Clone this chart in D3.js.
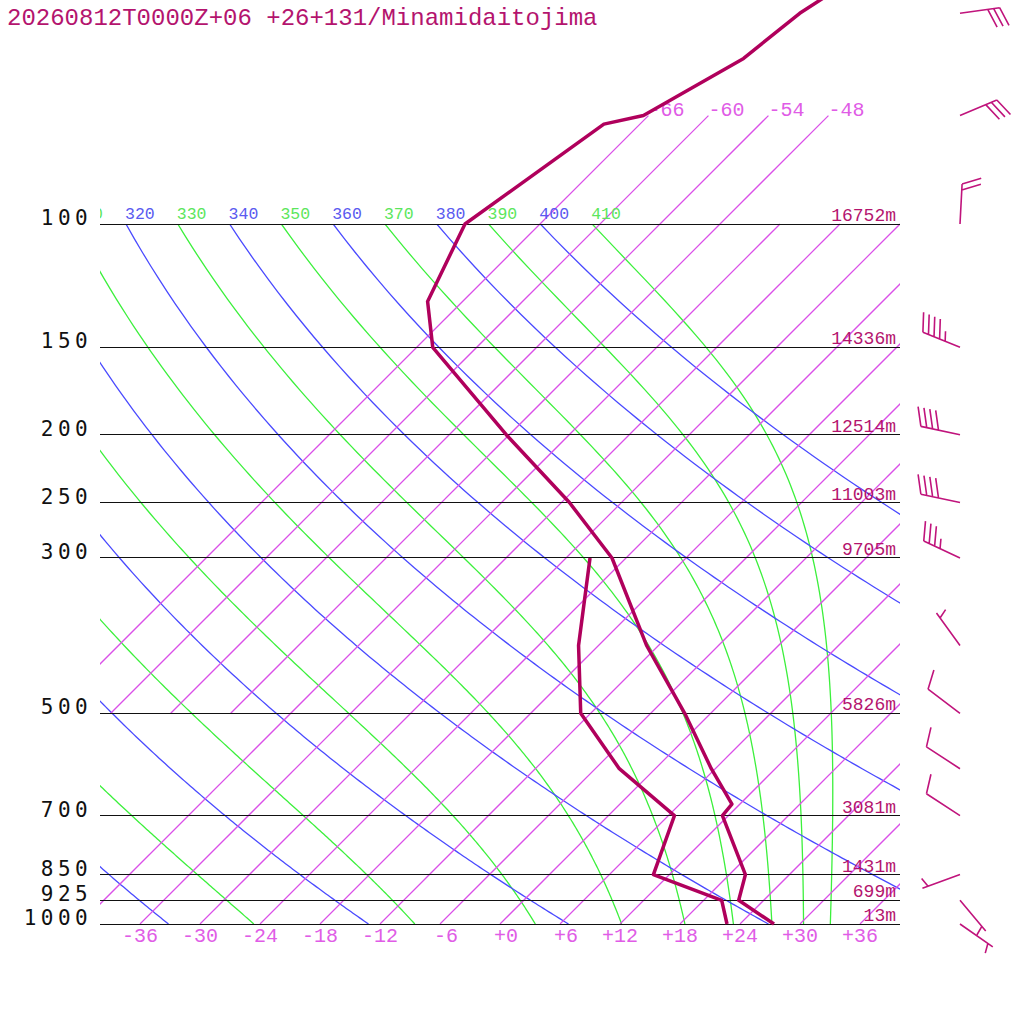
<!DOCTYPE html>
<html>
<head>
<meta charset="utf-8">
<script src="https://cdn.jsdelivr.net/npm/d3@7"></script>
<style>
  html, body { margin: 0; padding: 0; background: #fff; }
  svg { display: block; }
  text { font-family: "Liberation Mono", "DejaVu Sans Mono", monospace; }
  .crisp { shape-rendering: crispEdges; }
</style>
</head>
<body>
<svg id="chart" width="1024" height="1024"></svg>
<script>
// values
var title = "20260812T0000Z+06 +26+131/Minamidaitojima";

var levels  = [1000, 925, 850, 700, 500, 300, 250, 200, 150, 100];
var heights = [13, 699, 1431, 3081, 5826, 9705, 11003, 12514, 14336, 16752];

var tempTicks   = [-36, -30, -24, -18, -12, -6, 0, 6, 12, 18, 24, 30, 36];
var isoUpper    = [-66, -60, -54, -48];                 // 500 -> 70 hPa, labelled on top
var isoLower    = [-42, -36, -30, -24, -18, -12, -6, 0, 6, 12, 18, 24, 30, 36]; // 1000 -> 100 hPa
var dryThetas   = [240, 260, 280, 300, 320, 340, 360, 380, 400];
var moistThetas = [250, 270, 290, 310, 330, 350, 370, 390, 410];

// sounding
var tempP = [1000, 925, 850, 700, 674, 600, 500, 400, 300, 250, 200, 150, 129, 100, 72, 70, 58, 50, 40];
var tempT = [27.4, 21.5, 19.6, 11.4, 11.2, 5.6, -2.6, -13.2, -25.4, -35.2, -48.3, -64.4, -69.5, -73.5, -69.6, -66.5, -62.2, -61.1, -57.4];
var dewP  = [1000, 925, 850, 700, 600, 500, 400, 300];
var dewT  = [22.7, 19.8, 10.4, 6.6, -3.6, -13.0, -20.0, -27.6];

// winds (direction deg, speed kt)
var windP   = [1000, 925, 850, 700, 600, 500, 400, 300, 250, 200, 150, 100, 70, 50];
var windDir = [125, 140, 250, 303, 303, 307, 324, 295, 282, 282, 292, 3, 67, 82];
var windSpd = [5, 5, 5, 10, 10, 10, 5, 35, 40, 40, 45, 20, 30, 30];

var cIso = "#da50e8", cIsoTxt = "#e05ce6",
    cDry = "#4a4aff", cDryTxt = "#5a5af0",
    cWet = "#3cf03c", cWetTxt = "#5ce65c",
    cSnd = "#b0005c", cTxt = "#b4146e", cBarb = "#c0147c";

var svg = d3.select("#chart");
svg.append("rect").attr("width", 1024).attr("height", 1024).attr("fill", "#fff");

var y = d3.scaleLog().domain([1000, 100]).range([924, 224]);
var x = d3.scaleLinear().domain([-40, 40]).range([100, 900]);
function px(T, p) { return x(T) + (y(1000) - y(p)); }

var defs = svg.append("defs");
defs.append("clipPath").attr("id", "clipPlot").append("rect")
  .attr("x", 100).attr("y", 224).attr("width", 800).attr("height", 700);
defs.append("clipPath").attr("id", "clipIso").append("rect")
  .attr("x", 100).attr("y", 0).attr("width", 800).attr("height", 924);
defs.append("clipPath").attr("id", "clipLab").append("rect")
  .attr("x", 100).attr("y", 190).attr("width", 800).attr("height", 34);

var line = d3.line().x(function(d) { return px(d[0], d[1]); }).y(function(d) { return y(d[1]); });

// moist adiabats
function satMix(p, T) {
  var tc = T - 273.15;
  var es = 6.112 * Math.exp(17.67 * tc / (tc + 243.5));
  return 0.622 * es / (p - es);
}
function lapse(p, T) {
  var rs = satMix(p, T);
  return (287.04 * T + 2.501e6 * rs) / (1005.7 + 2.501e6 * 2.501e6 * rs * 0.622 / (287.04 * T * T)) / p;
}
function moistCurve(theta) {
  var p = 100, T = theta * Math.pow(p / 1000, 0.2857), pts = [[T - 273.15, p]];
  while (p < 1000) {
    var h = Math.min(4, 1000 - p);
    var k1 = lapse(p, T), k2 = lapse(p + h / 2, T + h / 2 * k1),
        k3 = lapse(p + h / 2, T + h / 2 * k2), k4 = lapse(p + h, T + h * k3);
    T += h / 6 * (k1 + 2 * k2 + 2 * k3 + k4);
    p += h;
    pts.push([T - 273.15, p]);
  }
  return pts;
}
function dryCurve(theta) {
  var pts = [];
  for (var p = 1000; p >= 100; p -= 5) pts.push([theta * Math.pow(p / 1000, 0.2857) - 273.15, p]);
  return pts;
}

var gPlot = svg.append("g").attr("clip-path", "url(#clipPlot)");
gPlot.selectAll("path.wet").data(moistThetas).enter().append("path")
  .attr("class", "wet").attr("fill", "none").attr("stroke", cWet).attr("stroke-width", 1.3)
  .attr("d", function(t) { return line(moistCurve(t)); });
gPlot.selectAll("path.dry").data(dryThetas).enter().append("path")
  .attr("class", "dry").attr("fill", "none").attr("stroke", cDry).attr("stroke-width", 1.3)
  .attr("d", function(t) { return line(dryCurve(t)); });

// isotherms
var gIso = svg.append("g").attr("clip-path", "url(#clipIso)");
var isoAll = isoUpper.map(function(t) { return [[t, 500], [t, 70]]; })
  .concat(isoLower.map(function(t) { return [[t, 1000], [t, 100]]; }));
gIso.selectAll("path.iso").data(isoAll).enter().append("path")
  .attr("class", "iso").attr("d", line)
  .attr("fill", "none").attr("stroke", cIso).attr("stroke-width", 1.25);

svg.selectAll("text.isolab").data(isoUpper).enter().append("text")
  .attr("class", "isolab").attr("x", function(t) { return px(t, 70); }).attr("y", y(70))
  .attr("font-size", 20).attr("fill", cIsoTxt).text(function(t) { return "-" + Math.abs(t); });

// theta labels along the 100 hPa line (only the characters that fall in the frame)
var labSize = 16.5, labAdv = labSize * 0.6;
var thetaLabs = dryThetas.map(function(t) { return [t, cDryTxt]; })
  .concat(moistThetas.map(function(t) { return [t, cWetTxt]; }))
  .map(function(d) {
    var x0 = px(d[0] * Math.pow(0.1, 0.2857) - 273.15, 100) - 1, s = String(d[0]);
    while (s.length && x0 + labAdv <= 100) { s = s.slice(1); x0 += labAdv; }
    return { x: x0, s: s, c: d[1] };
  })
  .filter(function(d) { return d.s.length > 0; });
svg.append("g").attr("clip-path", "url(#clipLab)")
  .selectAll("text").data(thetaLabs).enter().append("text")
  .attr("x", function(d) { return d.x; })
  .attr("y", 219).attr("font-size", labSize).attr("fill", function(d) { return d.c; })
  .text(function(d) { return d.s; });

// pressure lines and labels
svg.selectAll("line.plev").data(levels).enter().append("line")
  .attr("class", "plev crisp").attr("x1", 100).attr("x2", 900)
  .attr("y1", function(p) { return y(p); }).attr("y2", function(p) { return y(p); })
  .attr("stroke", "#111").attr("stroke-width", 1);
svg.selectAll("text.plab").data(levels).enter().append("text")
  .attr("class", "plab").attr("x", 92).attr("y", function(p) { return y(p) + 1; })
  .attr("text-anchor", "end").attr("font-size", 21).attr("letter-spacing", 4.4)
  .style("font-family", "'DejaVu Sans Mono', monospace").attr("fill", "#111")
  .text(function(p) { return p; });
svg.selectAll("text.hlab").data(levels).enter().append("text")
  .attr("class", "hlab").attr("x", 896).attr("y", function(p) { return y(p) - 3; })
  .attr("text-anchor", "end").attr("font-size", 18).attr("fill", cTxt)
  .text(function(p, i) { return heights[i] + "m"; });

// temperature ticks
svg.selectAll("text.tlab").data(tempTicks).enter().append("text")
  .attr("class", "tlab").attr("x", function(t) { return x(t) + 18; }).attr("y", 942)
  .attr("text-anchor", "end").attr("font-size", 20).attr("fill", cIsoTxt)
  .text(function(t) { return (t < 0 ? "-" : "+") + Math.abs(t); });

// sounding
svg.append("path").datum(tempP.map(function(p, i) { return [tempT[i], p]; }))
  .attr("d", line).attr("fill", "none").attr("stroke", cSnd).attr("stroke-width", 3.5)
  .attr("stroke-linejoin", "round");
svg.append("path").datum(dewP.map(function(p, i) { return [dewT[i], p]; }))
  .attr("d", line).attr("fill", "none").attr("stroke", cSnd).attr("stroke-width", 3.5)
  .attr("stroke-linejoin", "round");

// wind barbs
function barbPath(p, dir, spd) {
  var bx = 960, by = y(p), a = dir * Math.PI / 180;
  var ux = Math.sin(a), uy = -Math.cos(a);
  var tx = bx + 40 * ux, ty = by + 40 * uy;
  var th = 70 * Math.PI / 180;
  var fx = ux * Math.cos(th) - uy * Math.sin(th), fy = ux * Math.sin(th) + uy * Math.cos(th);
  var d = "M" + bx + "," + by + "L" + tx + "," + ty;
  var full = Math.floor(spd / 10), half = spd % 10 >= 5;
  var off = full === 0 ? 6 : 0;
  for (var i = 0; i < full; i++, off += 6) {
    var sx = tx - off * ux, sy = ty - off * uy;
    d += "M" + sx + "," + sy + "L" + (sx + 20 * fx) + "," + (sy + 20 * fy);
  }
  if (half) {
    var hx = tx - off * ux, hy = ty - off * uy;
    d += "M" + hx + "," + hy + "L" + (hx + 10 * fx) + "," + (hy + 10 * fy);
  }
  return d;
}
svg.selectAll("path.barb").data(windP).enter().append("path")
  .attr("class", "barb").attr("fill", "none").attr("stroke", cBarb).attr("stroke-width", 1.6)
  .attr("d", function(p, i) { return barbPath(p, windDir[i], windSpd[i]); });

// title
svg.append("text").attr("x", 7).attr("y", 25).attr("font-size", 24).attr("fill", cTxt).text(title);
</script>
</body>
</html>
